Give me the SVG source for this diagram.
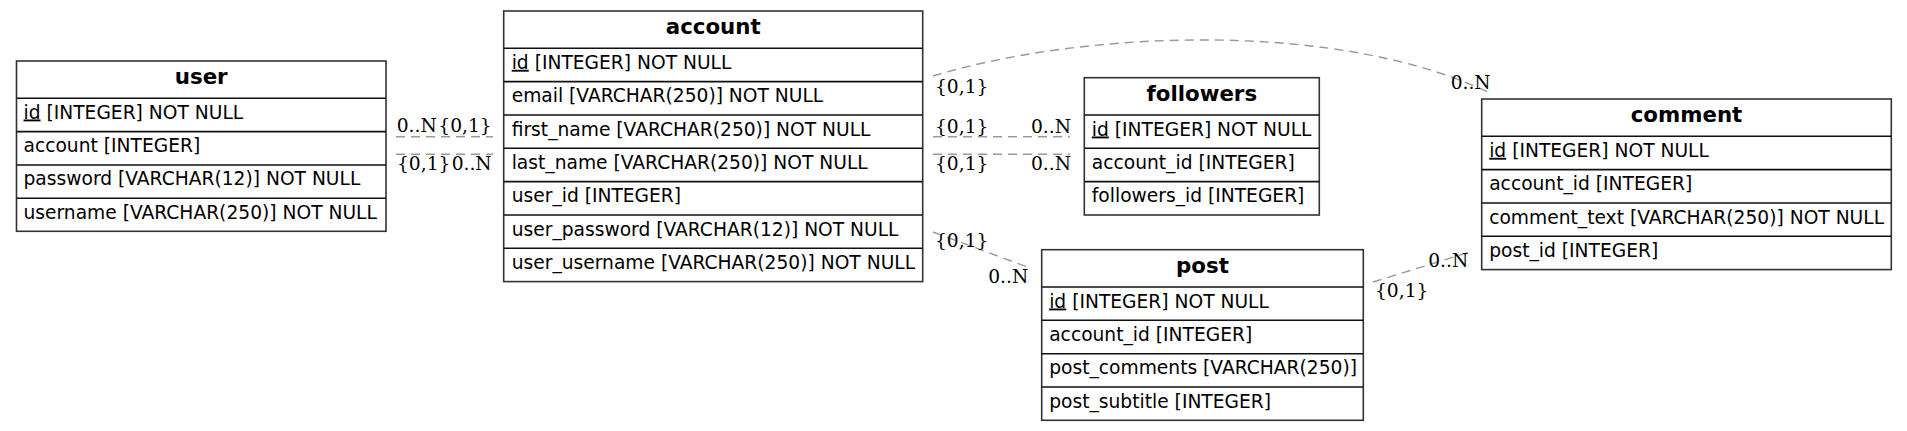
<svg xmlns="http://www.w3.org/2000/svg" width="1907" height="431" viewBox="0 0 1907 431">
<style>
.bg{fill:#ffffff}
.box{fill:none;stroke:#333333;stroke-width:1.6}
.sep{stroke:#111111;stroke-width:1.6}
.title{font-family:"DejaVu Sans",sans-serif;font-weight:bold;font-size:21.33px;fill:#000;text-anchor:middle}
.row{font-family:"DejaVu Sans",sans-serif;font-size:18.67px;fill:#000}
.u{text-decoration:underline}
.lab{font-family:"DejaVu Serif",serif;font-size:18.67px;fill:#000}
.end{text-anchor:end}
.edge{fill:none;stroke:#999999;stroke-width:1.4;stroke-dasharray:9,6}
</style>
<rect class="bg" x="0" y="0" width="1907" height="431"/>
<g id="connectors">
  <line class="edge" x1="396" y1="136.7" x2="493" y2="136.7"/>
  <line class="edge" x1="396" y1="154.3" x2="493" y2="154.3"/>
  <path class="edge" d="M933,76 C1085,30 1340,20 1492,94"/>
  <line class="edge" x1="933" y1="136.7" x2="1070" y2="136.7"/>
  <line class="edge" x1="933" y1="154.3" x2="1070" y2="154.3"/>
  <line class="edge" x1="933" y1="232" x2="1030" y2="268"/>
  <line class="edge" x1="1373" y1="282" x2="1470" y2="252"/>
  <text class="lab" x="396.7" y="131.7">0..N</text>
  <text class="lab end" x="491.7" y="131.7">{0,1}</text>
  <text class="lab" x="397" y="170">{0,1}</text>
  <text class="lab end" x="491.7" y="170">0..N</text>
  <text class="lab" x="935" y="93.3">{0,1}</text>
  <text class="lab end" x="1490.7" y="89">0..N</text>
  <text class="lab" x="935" y="133.3">{0,1}</text>
  <text class="lab end" x="1071" y="133.3">0..N</text>
  <text class="lab" x="935" y="170">{0,1}</text>
  <text class="lab end" x="1071" y="170">0..N</text>
  <text class="lab" x="935" y="246.7">{0,1}</text>
  <text class="lab end" x="1028.3" y="283.3">0..N</text>
  <text class="lab" x="1375" y="297">{0,1}</text>
  <text class="lab end" x="1468.3" y="266.5">0..N</text>
</g>
<g id="user">
  <rect class="box" x="16.5" y="61" width="369.5" height="170.3"/>
  <line class="sep" x1="16.5" y1="98.3" x2="386" y2="98.3"/>
  <line class="sep" x1="16.5" y1="131.6" x2="386" y2="131.6"/>
  <line class="sep" x1="16.5" y1="165" x2="386" y2="165"/>
  <line class="sep" x1="16.5" y1="198.3" x2="386" y2="198.3"/>
  <text class="title" x="201.2" y="84">user</text>
  <text class="row" x="23.5" y="118.5"><tspan class="u">id</tspan> [INTEGER] NOT NULL</text>
  <text class="row" x="23.5" y="151.8">account [INTEGER]</text>
  <text class="row" x="23.5" y="185.2">password [VARCHAR(12)] NOT NULL</text>
  <text class="row" x="23.5" y="218.5">username [VARCHAR(250)] NOT NULL</text>
</g>
<g id="account">
  <rect class="box" x="503.7" y="11" width="419" height="270.6"/>
  <line class="sep" x1="503.7" y1="48.3" x2="922.7" y2="48.3"/>
  <line class="sep" x1="503.7" y1="81.6" x2="922.7" y2="81.6"/>
  <line class="sep" x1="503.7" y1="115" x2="922.7" y2="115"/>
  <line class="sep" x1="503.7" y1="148.3" x2="922.7" y2="148.3"/>
  <line class="sep" x1="503.7" y1="181.6" x2="922.7" y2="181.6"/>
  <line class="sep" x1="503.7" y1="215" x2="922.7" y2="215"/>
  <line class="sep" x1="503.7" y1="248.3" x2="922.7" y2="248.3"/>
  <text class="title" x="713.2" y="34">account</text>
  <text class="row" x="511.7" y="68.8"><tspan class="u">id</tspan> [INTEGER] NOT NULL</text>
  <text class="row" x="511.7" y="102.1">email [VARCHAR(250)] NOT NULL</text>
  <text class="row" x="511.7" y="135.5">first_name [VARCHAR(250)] NOT NULL</text>
  <text class="row" x="511.7" y="168.8">last_name [VARCHAR(250)] NOT NULL</text>
  <text class="row" x="511.7" y="202.1">user_id [INTEGER]</text>
  <text class="row" x="511.7" y="235.5">user_password [VARCHAR(12)] NOT NULL</text>
  <text class="row" x="511.7" y="268.8">user_username [VARCHAR(250)] NOT NULL</text>
</g>
<g id="followers">
  <rect class="box" x="1084.3" y="77.7" width="235" height="137.3"/>
  <line class="sep" x1="1084.3" y1="115" x2="1319.3" y2="115"/>
  <line class="sep" x1="1084.3" y1="148.3" x2="1319.3" y2="148.3"/>
  <line class="sep" x1="1084.3" y1="181.6" x2="1319.3" y2="181.6"/>
  <text class="title" x="1201.8" y="100.7">followers</text>
  <text class="row" x="1091.8" y="135.5"><tspan class="u">id</tspan> [INTEGER] NOT NULL</text>
  <text class="row" x="1091.8" y="168.8">account_id [INTEGER]</text>
  <text class="row" x="1091.8" y="202.1">followers_id [INTEGER]</text>
</g>
<g id="post">
  <rect class="box" x="1041.7" y="249.7" width="321.6" height="170.6"/>
  <line class="sep" x1="1041.7" y1="287" x2="1363.3" y2="287"/>
  <line class="sep" x1="1041.7" y1="320.3" x2="1363.3" y2="320.3"/>
  <line class="sep" x1="1041.7" y1="353.7" x2="1363.3" y2="353.7"/>
  <line class="sep" x1="1041.7" y1="387" x2="1363.3" y2="387"/>
  <text class="title" x="1202.5" y="272.7">post</text>
  <text class="row" x="1049.2" y="307.5"><tspan class="u">id</tspan> [INTEGER] NOT NULL</text>
  <text class="row" x="1049.2" y="340.8">account_id [INTEGER]</text>
  <text class="row" x="1049.2" y="374.2">post_comments [VARCHAR(250)]</text>
  <text class="row" x="1049.2" y="407.5">post_subtitle [INTEGER]</text>
</g>
<g id="comment">
  <rect class="box" x="1481.7" y="99" width="409.6" height="170.6"/>
  <line class="sep" x1="1481.7" y1="136.3" x2="1891.3" y2="136.3"/>
  <line class="sep" x1="1481.7" y1="169.6" x2="1891.3" y2="169.6"/>
  <line class="sep" x1="1481.7" y1="203" x2="1891.3" y2="203"/>
  <line class="sep" x1="1481.7" y1="236.3" x2="1891.3" y2="236.3"/>
  <text class="title" x="1686.5" y="122">comment</text>
  <text class="row" x="1489.2" y="156.8"><tspan class="u">id</tspan> [INTEGER] NOT NULL</text>
  <text class="row" x="1489.2" y="190.1">account_id [INTEGER]</text>
  <text class="row" x="1489.2" y="223.5">comment_text [VARCHAR(250)] NOT NULL</text>
  <text class="row" x="1489.2" y="256.8">post_id [INTEGER]</text>
</g>
</svg>
